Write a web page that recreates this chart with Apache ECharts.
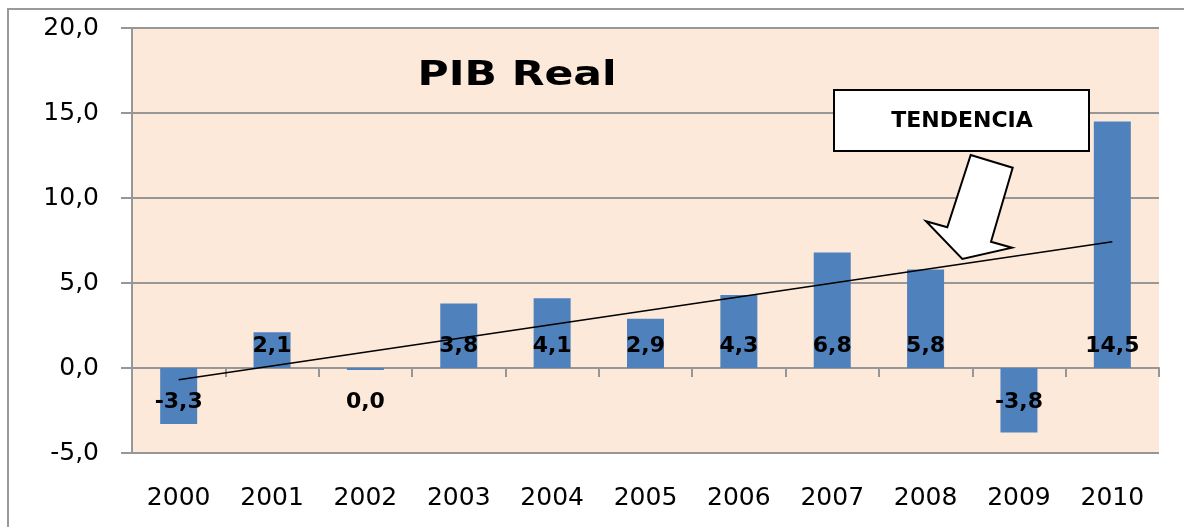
<!DOCTYPE html>
<html>
<head>
<meta charset="utf-8">
<script src="https://cdn.jsdelivr.net/npm/echarts@6/dist/echarts.min.js"></script>
<style>
  html, body { margin: 0; padding: 0; background: #fff; }
  #main { width: 1184px; height: 527px; }
</style>
</head>
<body>
<div id="main"></div>
<script>
var myChart = echarts.init(document.getElementById('main'))

// datos
var years = ['2000', '2001', '2002', '2003', '2004', '2005', '2006', '2007', '2008', '2009', '2010']
var pibReal = [-3.3, 2.1, -0.04, 3.8, 4.1, 2.9, 4.3, 6.8, 5.8, -3.8, 14.5]
var trendYears = ['2000', '2010']
var trendValues = [-0.69, 7.43]
var yMin = -5
var yMax = 20
var yStep = 5

var gridColor = '#979797'
var barColor = '#4F81BD'

function fmt(v) {
  var s = Math.abs(v) < 0.05 ? '0.0' : v.toFixed(1)
  return s.replace('.', ',')
}

var barData = []
for (let i = 0; i < pibReal.length; i++) {
  var v = pibReal[i]
  barData.push({
    value: v,
    label: {
      position: v >= 0 ? 'insideBottom' : 'insideTop',
      distance: v >= 0 ? 11 : 23,
    },
  })
}

var trendData = []
for (let i = 0; i < trendYears.length; i++) {
  trendData.push([trendYears[i], trendValues[i]])
}

var option = {
  animation: false,
  grid: {
    left: 132,
    right: 25,
    top: 28,
    bottom: 74,
    show: true,
    backgroundColor: '#FCE9DA',
    borderWidth: 0,
  },
  xAxis: [
    {
      type: 'category',
      data: years,
      position: 'bottom',
      axisLine: { show: true, onZero: true, lineStyle: { color: gridColor, width: 2 } },
      axisTick: { show: true, length: 9, interval: 0, lineStyle: { color: gridColor, width: 2 } },
      axisLabel: { show: false },
      splitLine: { show: false },
    },
    {
      type: 'category',
      data: years,
      position: 'bottom',
      axisLine: { show: false, onZero: false },
      axisTick: { show: false },
      axisLabel: {
        show: true,
        interval: 0,
        margin: 33,
        color: '#000',
        fontSize: 25,
        fontFamily: 'DejaVu Sans',
      },
      splitLine: { show: false },
    },
  ],
  yAxis: {
    type: 'value',
    min: yMin,
    max: yMax,
    interval: yStep,
    axisLine: { show: true, lineStyle: { color: gridColor, width: 2 } },
    axisTick: { show: true, length: 11, lineStyle: { color: gridColor, width: 2 } },
    axisLabel: {
      margin: 33,
      color: '#000',
      fontSize: 25,
      fontFamily: 'DejaVu Sans',
      formatter: function (v) {
        return fmt(v)
      },
    },
    splitLine: { show: true, lineStyle: { color: gridColor, width: 2 } },
  },
  series: [
    {
      type: 'bar',
      xAxisIndex: 0,
      data: barData,
      barWidth: 37,
      barMinHeight: 2,
      itemStyle: { color: barColor },
      label: {
        show: true,
        color: '#000',
        fontSize: 22,
        fontWeight: 'bold',
        fontFamily: 'DejaVu Sans',
        formatter: function (p) {
          return fmt(p.value)
        },
      },
      z: 2,
    },
    {
      type: 'line',
      xAxisIndex: 0,
      data: trendData,
      symbol: 'none',
      lineStyle: { color: '#000', width: 1.5 },
      z: 3,
    },
  ],
  graphic: [
    {
      type: 'rect',
      silent: true,
      shape: { x: 8, y: 9, width: 1200, height: 600 },
      style: { fill: 'none', stroke: '#9a9a9a', lineWidth: 2 },
      z: 0,
    },
    {
      type: 'text',
      x: 517,
      y: 76,
      scaleX: 1.25,
      style: {
        text: 'PIB Real',
        fill: '#000',
        fontSize: 34,
        fontWeight: 'bold',
        fontFamily: 'DejaVu Sans',
        align: 'center',
        verticalAlign: 'middle',
      },
      z: 10,
    },
    {
      type: 'rect',
      shape: { x: 834, y: 90, width: 255, height: 61 },
      style: { fill: '#fff', stroke: '#000', lineWidth: 2 },
      z: 10,
    },
    {
      type: 'text',
      x: 962,
      y: 121,
      style: {
        text: 'TENDENCIA',
        fill: '#000',
        fontSize: 22,
        fontWeight: 'bold',
        fontFamily: 'DejaVu Sans',
        align: 'center',
        verticalAlign: 'middle',
      },
      z: 11,
    },
    {
      type: 'polygon',
      shape: {
        points: [
          [970.7, 155],
          [1012.7, 167.7],
          [991, 241.7],
          [1012, 247.7],
          [962.3, 259],
          [926, 221.3],
          [947.3, 227.3],
        ],
      },
      style: { fill: '#fff', stroke: '#000', lineWidth: 2 },
      z: 10,
    },
  ],
}

myChart.setOption(option)
</script>
</body>
</html>
